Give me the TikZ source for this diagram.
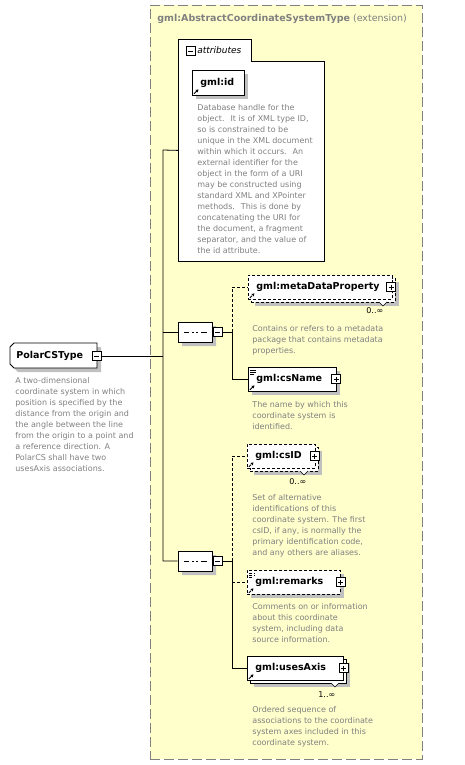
\documentclass[tikz,border=0pt]{standalone}
\usepackage{fontspec}
\setmainfont{DejaVu Sans}
\usetikzlibrary{shapes.misc,shadows,arrows.meta}

\definecolor{extyellow}{RGB}{255,255,204}
\definecolor{docgray}{RGB}{128,128,128}
\definecolor{shadegray}{RGB}{192,192,192}

\newcommand{\refarrow}{%
  \draw[line width=0.9pt, -{Triangle[length=2.5pt,width=3pt]}]
    ([shift={(1.5pt,1.5pt)}]path picture bounding box.south west) -- ++(4.5pt,4.5pt);}
\newcommand{\simplelines}{%
  \draw[line width=0.6pt]
    ([shift={(2pt,-2.5pt)}]path picture bounding box.north west) -- ++(6pt,0pt)
    ([shift={(2pt,-4.5pt)}]path picture bounding box.north west) -- ++(6pt,0pt)
    ([shift={(2pt,-6.5pt)}]path picture bounding box.north west) -- ++(4pt,0pt);}
\newcommand{\seqdots}{%
  \draw[line width=0.8pt]
    ([xshift=6pt]path picture bounding box.west) -- ([xshift=-5pt]path picture bounding box.east);
  \foreach \d in {-4.5,0,4.5}
    \fill ([shift={(\d pt-1.3pt,-1.3pt)}]path picture bounding box.center) rectangle ++(2.6pt,2.6pt);}

\begin{document}
\begin{tikzpicture}[x=1pt, y=-1pt, line width=0.8pt,
    boxshadow/.style={drop shadow={shadow xshift=#1, shadow yshift=-#1, fill=shadegray, draw=none, opacity=1}},
    elem/.style={draw, fill=white, anchor=north west, inner xsep=8pt, inner ysep=0pt,
      minimum height=24pt, text height=7pt, text depth=2pt, align=left,
      font=\fontsize{9.5}{11}\selectfont\bfseries, path picture={\refarrow}},
    simple/.style={path picture={\refarrow\simplelines}},
    one/.style={boxshadow=4pt},
    many/.style={boxshadow=7pt, copy shadow={shadow xshift=3pt, shadow yshift=-3pt}},
    opt/.style={dash pattern=on 3pt off 2pt},
    seq/.style={chamfered rectangle, chamfered rectangle xsep=5pt, draw, fill=white,
      minimum width=34pt, minimum height=20pt, inner sep=0pt, boxshadow=4pt, path picture={\seqdots}},
    pm/.style={draw, fill=white, minimum size=9pt, inner sep=0pt, line width=0.7pt},
    minus/.style={pm, path picture={\draw ([xshift=2pt]path picture bounding box.west) -- ([xshift=-2pt]path picture bounding box.east);}},
    plus/.style={pm, path picture={\draw ([xshift=2pt]path picture bounding box.west) -- ([xshift=-2pt]path picture bounding box.east)
      ([yshift=-2pt]path picture bounding box.north) -- ([yshift=2pt]path picture bounding box.south);}},
    doc/.style={anchor=north west, inner sep=0pt, align=left, text=docgray, font=\fontsize{8}{11}\selectfont},
    card/.style={anchor=base west, inner sep=0pt, font=\fontsize{8}{10}\selectfont},
    notch/.style={fill=white, line width=0.6pt}]
    \useasboundingbox (0,0) rectangle (464,765);

    \node (EXT) at (150,5) [anchor=north west, minimum width=272pt, minimum height=754pt, inner sep=0pt,
      fill=extyellow, draw=docgray, dash pattern=on 10pt off 4pt] {};
    \node (TITLE) at (157,22) [anchor=base west, inner sep=0pt, text=docgray, font=\fontsize{9.5}{11}\selectfont]
      {\textbf{gml:AbstractCoordinateSystemType} (extension)};

    %-----

    \node (ATTR) at (178,39) [anchor=north west, minimum width=146pt, minimum height=222pt, inner sep=0pt] {};
    \draw[fill=white] (ATTR.north west) -- ++(73,0) -- ++(0,22) -- (ATTR.north east |- 0,61)
      -- (ATTR.south east) -- (ATTR.south west) -- cycle;
    \node (ATTRm) at (190.5,51) [minus] {};
    \node (ATTRt) at (197,54) [anchor=base west, inner sep=0pt, font=\fontsize{9}{11}\selectfont\itshape] {attributes};
    \node (ID) at (192,70) [elem, one, minimum height=25pt, text width=36pt] {gml:id};
    \node (IDdoc) at (197,104) [doc] {Database handle for the\\object.~ It is of XML type ID,\\so is constrained to be\\unique in the XML document\\within which it occurs.~ An\\external identifier for the\\object in the form of a URI\\may be constructed using\\standard XML and XPointer\\methods.~ This is done by\\concatenating the URI for\\the document, a fragment\\separator, and the value of\\the id attribute.};

    %-----

    \draw[fill=white, boxshadow=4pt] (14,343) -- (97,343) -- (97,368) -- (14,368) -- (10,364) -- (10,347) -- cycle;
    \node (PC) at (10,343) [anchor=north west, minimum width=87pt, minimum height=25pt, inner xsep=6pt,
      text width=75pt, align=left, font=\fontsize{9.5}{11}\selectfont\bfseries] {PolarCSType};
    \node (PCm) at (96.5,356) [minus] {};
    \node (PCdoc) at (15,377) [doc] {A two-dimensional\\coordinate system in which\\position is specified by the\\distance from the origin and\\the angle between the line\\from the origin to a point and\\a reference direction. A\\PolarCS shall have two\\usesAxis associations.};
    \coordinate (T) at (163,356);
    \coordinate (TT) at (163,150);
    \coordinate (TB) at (163,561);

    %-----

    \node (SEQ1) at (195,332) [seq] {};
    \node (SEQ1m) at (217.5,332) [minus] {};
    \coordinate (B1) at (232,332);

    \node (MDP) at (248,275) [elem, opt, many, text width=128pt] {gml:metaDataProperty};
    \draw[notch] (379,302) -- (383,306) -- (387,302);
    \node (MDPp) at (391,287) [plus] {};
    \node (MDPc) at (366,313) [card] {0..∞};
    \node (MDPdoc) at (252,325) [doc] {Contains or refers to a metadata\\package that contains metadata\\properties.};

    \node (CSN) at (248,367) [elem, simple, one, text width=72pt] {gml:csName};
    \node (CSNp) at (336,379) [plus] {};
    \node (CSNdoc) at (252,401) [doc] {The name by which this\\coordinate system is\\identified.};

    %-----

    \node (SEQ2) at (195,561) [seq] {};
    \node (SEQ2m) at (217.5,561) [minus] {};
    \coordinate (B2) at (232,561);

    \node (CSID) at (247,444) [elem, opt, many, text width=52pt] {gml:csID};
    \draw[notch] (300,471) -- (304,475) -- (308,471);
    \node (CSIDp) at (314.5,456) [plus] {};
    \node (CSIDc) at (289,484) [card] {0..∞};
    \node (CSIDdoc) at (252,494) [doc] {Set of alternative\\identifications of this\\coordinate system. The first\\csID, if any, is normally the\\primary identification code,\\and any others are aliases.};

    \node (REM) at (247,570) [elem, opt, simple, one, text width=77pt] {gml:remarks};
    \node (REMp) at (340.5,582) [plus] {};
    \node (REMdoc) at (252,603) [doc] {Comments on or information\\about this coordinate\\system, including data\\source information.};

    \node (UA) at (247,656) [elem, many, text width=80pt] {gml:usesAxis};
    \draw[notch] (331,683) -- (335,687) -- (339,683);
    \node (UAp) at (343.5,668) [plus] {};
    \node (UAc) at (318,697) [card] {1..∞};
    \node (UAdoc) at (252,706) [doc] {Ordered sequence of\\associations to the coordinate\\system axes included in this\\coordinate system.};

    %-----

    \draw (PCm) -- (T);
    \draw (ATTR.west) -- (TT) -- (TB) -- (SEQ2);
    \draw (TT |- SEQ1) -- (SEQ1);
    \draw (SEQ1m) -- (B1);
    \draw[opt] (B1) |- (MDP);
    \draw (B1) |- (CSN);
    \draw (SEQ2m) -- (B2);
    \draw[opt] (B2) |- (CSID);
    \draw (B2) |- (UA);
    \draw[opt] (B2 |- REM) -- (REM);
\end{tikzpicture}
\end{document}
